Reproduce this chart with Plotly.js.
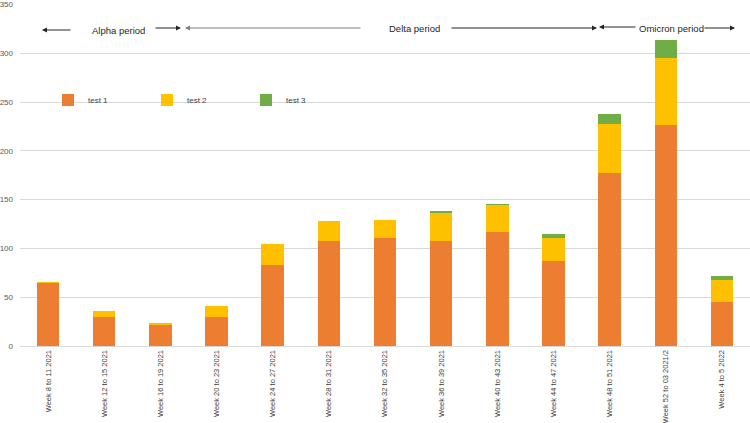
<!DOCTYPE html>
<html>
<head>
<meta charset="utf-8">
<script src="https://cdn.plot.ly/plotly-3.0.1.min.js"></script>
<style>html,body{margin:0;padding:0;background:#fff;}#chart{width:750px;height:423px;}</style>
</head>
<body>
<div id="chart"></div>
<script>
const categories = ["Week 8 to 11 2021","Week 12 to 15 2021","Week 16 to 19 2021","Week 20 to 23 2021","Week 24 to 27 2021","Week 28 to 31 2021","Week 32 to 35 2021","Week 36 to 39 2021","Week 40 to 43 2021","Week 44 to 47 2021","Week 48 to 51 2021","Week 52 to 03 2021/2","Week 4 to 5 2022"];
const test1 = [65, 30, 22, 30, 83, 108, 111, 108, 117, 87, 177, 227, 45];
const test2 = [1, 6, 2, 11, 22, 20, 18, 28, 27, 24, 51, 68, 23];
const test3 = [0, 0, 0, 0, 0, 0, 0, 2, 2, 4, 10, 19, 4];
const seriesNames = ["test 1", "test 2", "test 3"];
const seriesColors = ["#ED7D31", "#FFC000", "#70AD47"];

const L = 20, R = 0, T = 4, B = 77, W = 750, H = 423;
const pw = W - L - R, ph = H - T - B;
const px = v => (v - L) / pw;
const py = v => (H - B - v) / ph;
const FONT = 'Liberation Sans, Arial';

const traces = [test1, test2, test3].map((vals, i) => ({
  type: 'bar', x: categories, y: vals, name: seriesNames[i],
  marker: {color: seriesColors[i]}, hoverinfo: 'x+y+name'
}));

function arrow(headX, tailX, yPix, color) {
  return {xref: 'paper', yref: 'paper', x: px(headX), y: py(yPix), ax: tailX - headX, ay: 0,
    text: '', showarrow: true, arrowhead: 2, arrowsize: 1, arrowwidth: 1, arrowcolor: color};
}
function label(text, cx, yPix) {
  return {xref: 'paper', yref: 'paper', x: px(cx), y: py(yPix), text: text, showarrow: false,
    xanchor: 'center', yanchor: 'middle', font: {family: FONT, size: 9.5, color: '#262626'}};
}

const layout = {
  width: W, height: H,
  margin: {l: L, r: R, t: T, b: B, pad: 0},
  paper_bgcolor: '#ffffff', plot_bgcolor: '#ffffff',
  barmode: 'stack', bargap: 0.6,
  showlegend: true,
  legend: {orientation: 'h', x: px(48), y: py(100), xanchor: 'left', yanchor: 'middle',
    font: {family: FONT, size: 8, color: '#404040'},
    itemwidth: 30, entrywidth: 54, entrywidthmode: 'pixels', bgcolor: 'rgba(0,0,0,0)', traceorder: 'normal'},
  xaxis: {type: 'category', tickangle: -90, showgrid: false, showline: true, linecolor: '#d9d9d9', linewidth: 1,
    ticks: '', automargin: false,
    tickfont: {family: FONT, size: 7.5, color: '#404040'}},
  yaxis: {range: [0, 350.5], tickvals: [0, 50, 100, 150, 200, 250, 300, 350], showgrid: true, gridcolor: '#d9d9d9', gridwidth: 1, zeroline: false,
    showline: false, ticks: '', automargin: false, ticklabelstandoff: 6,
    tickfont: {family: FONT, size: 8, color: '#595959'}},
  annotations: [
    arrow(42, 72, 30, '#262626'),
    label('Alpha period', 118, 30),
    arrow(181, 154, 28, '#262626'),
    arrow(185, 362, 28, '#7f7f7f'),
    label('Delta period', 414, 28),
    arrow(597, 450, 28, '#262626'),
    arrow(599, 637, 27, '#262626'),
    label('Omicron period', 671, 29),
    arrow(735, 703, 28, '#262626')
  ]
};

Plotly.newPlot('chart', traces, layout, {displayModeBar: false, staticPlot: true});
</script>
</body>
</html>
